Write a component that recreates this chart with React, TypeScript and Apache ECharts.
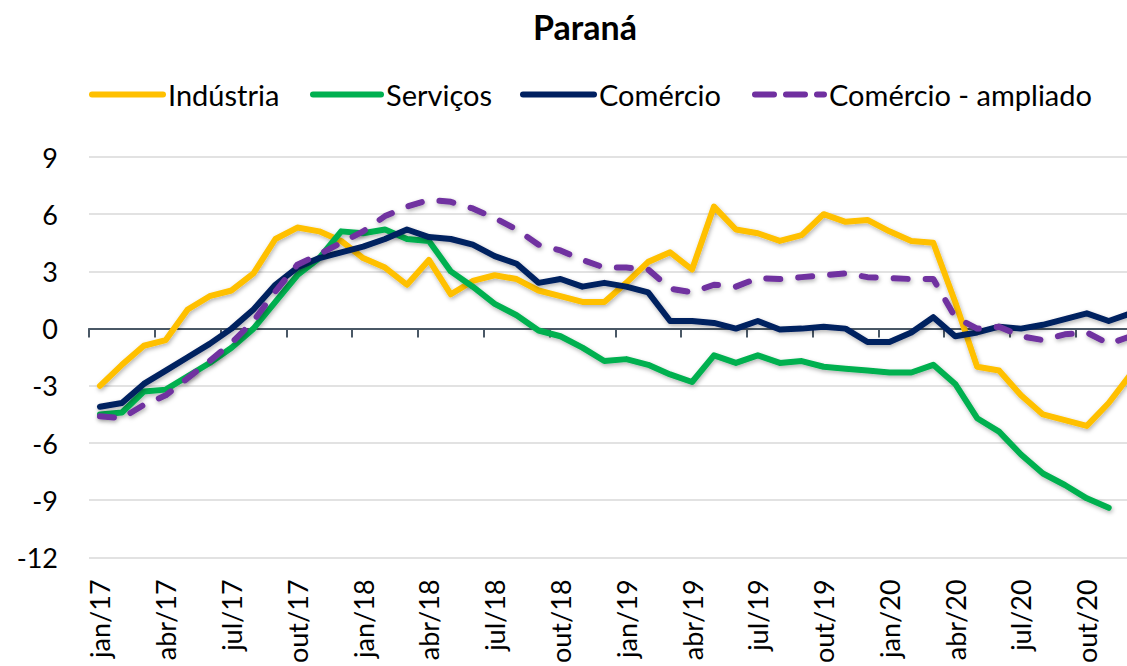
import React, { useEffect, useRef } from "react";
import * as echarts from "echarts";

const monthNames = ["jan", "fev", "mar", "abr", "mai", "jun", "jul", "ago", "set", "out", "nov", "dez"];
const years = ["17", "18", "19", "20"];
const categories: string[] = years.flatMap((y) => monthNames.map((m) => `${m}/${y}`));

const industria = [-3.0, -1.9, -0.9, -0.6, 1.0, 1.7, 2.0, 2.9, 4.7, 5.3, 5.1, 4.6, 3.7, 3.2, 2.3, 3.6, 1.8, 2.5, 2.8, 2.6, 2.0, 1.7, 1.4, 1.4, 2.4, 3.5, 4.0, 3.1, 6.4, 5.2, 5.0, 4.6, 4.9, 6.0, 5.6, 5.7, 5.1, 4.6, 4.5, 1.4, -2.0, -2.2, -3.5, -4.5, -4.8, -5.1, -3.9, -2.4];
const servicos = [-4.5, -4.4, -3.3, -3.2, -2.5, -1.8, -1.0, 0.0, 1.4, 2.8, 3.7, 5.1, 5.0, 5.2, 4.7, 4.6, 3.0, 2.2, 1.3, 0.7, -0.1, -0.4, -1.0, -1.7, -1.6, -1.9, -2.4, -2.8, -1.4, -1.8, -1.4, -1.8, -1.7, -2.0, -2.1, -2.2, -2.3, -2.3, -1.9, -2.9, -4.7, -5.4, -6.6, -7.6, -8.2, -8.9, -9.4, null];
const comercio = [-4.1, -3.9, -2.9, -2.2, -1.5, -0.8, 0.0, 1.0, 2.3, 3.2, 3.7, 4.0, 4.3, 4.7, 5.2, 4.8, 4.7, 4.4, 3.8, 3.4, 2.4, 2.6, 2.2, 2.4, 2.2, 1.9, 0.4, 0.4, 0.3, 0.0, 0.4, -0.05, 0.0, 0.1, 0.0, -0.7, -0.7, -0.2, 0.6, -0.4, -0.2, 0.1, 0.0, 0.2, 0.5, 0.8, 0.4, 0.8];
const comercioAmpliado = [-4.6, -4.7, -4.0, -3.5, -2.6, -1.7, -0.75, 0.4, 1.95, 3.35, 3.9, 4.5, 5.1, 5.9, 6.4, 6.75, 6.65, 6.3, 5.8, 5.2, 4.4, 4.1, 3.6, 3.2, 3.2, 3.1, 2.1, 1.9, 2.3, 2.2, 2.65, 2.6, 2.7, 2.8, 2.9, 2.7, 2.65, 2.6, 2.6, 0.6, 0.0, 0.1, -0.4, -0.6, -0.3, -0.2, -0.8, -0.4];

const seriesNames = ["Indústria", "Serviços", "Comércio", "Comércio - ampliado"];
const seriesColors = ["#FFC000", "#00B050", "#002060", "#7030A0"];
const seriesData = [industria, servicos, comercio, comercioAmpliado];

const FONT = "Lato";

export default function App() {
  const ref = useRef<HTMLDivElement>(null);
  useEffect(() => {
    if (!ref.current) return;
    const chart = echarts.init(ref.current, undefined, { renderer: "svg" });
    const legendLefts = [89, 310, 520, 752];
    const legendWidths = [71, 68, 71, 69];
    chart.setOption({
      animation: false,
      backgroundColor: "#ffffff",
      title: {
        text: "Paraná",
        left: "center",
        top: 4,
        textStyle: { fontFamily: FONT, fontWeight: "bold", fontSize: 34, color: "#000000" },
      },
      legend: seriesNames.map((name, i) => ({
        data: [name],
        left: legendLefts[i],
        top: 80,
        padding: 0,
        itemWidth: legendWidths[i],
        itemHeight: 14,
        selectedMode: false,
        textStyle: { fontFamily: FONT, fontSize: 29, color: "#000000" },
        itemStyle: { opacity: 0 },
        lineStyle: {
          width: 6,
          cap: "round",
          type: i === 3 ? [19, 12] : "solid",
          shadowBlur: 0,
        },
      })),
      grid: { left: 89, top: 157, width: 1052.6, height: 401, containLabel: false },
      xAxis: [
        {
          type: "category",
          data: categories,
          boundaryGap: true,
          axisLine: { onZero: true, lineStyle: { color: "#4A5866", width: 2 } },
          axisTick: { show: true, interval: 2, length: 9, lineStyle: { color: "#4A5866", width: 2 } },
          axisLabel: { show: false },
          splitLine: { show: false },
        },
        {
          type: "category",
          data: categories,
          position: "bottom",
          boundaryGap: true,
          axisLine: { show: false, onZero: false },
          axisTick: { show: false },
          axisLabel: {
            show: true,
            interval: 2,
            rotate: 90,
            margin: 22,
            fontFamily: FONT,
            fontSize: 27,
            color: "#000000",
          },
          splitLine: { show: false },
        },
      ],
      yAxis: {
        type: "value",
        min: -12,
        max: 9,
        interval: 3,
        axisLine: { show: false },
        axisTick: { show: false },
        axisLabel: { fontFamily: FONT, fontSize: 27, color: "#000000", margin: 31 },
        splitLine: { lineStyle: { color: "#D9D9D9", width: 1.5 } },
      },
      series: seriesNames.map((name, i) => ({
        name,
        type: "line",
        xAxisIndex: 0,
        data: seriesData[i],
        symbol: "none",
        color: seriesColors[i],
        connectNulls: false,
        lineStyle: {
          color: seriesColors[i],
          width: 6,
          cap: "round",
          join: "round",
          type: i === 3 ? [14, 18] : "solid",
          shadowColor: "rgba(0,0,0,0.3)",
          shadowBlur: 4,
          shadowOffsetX: 1,
          shadowOffsetY: 2,
        },
      })),
    });
    return () => chart.dispose();
  }, []);
  return (
    <div style={{ position: "fixed", left: 0, top: 0, width: 1127, height: 666, overflow: "hidden", background: "#ffffff" }}>
      <div ref={ref} style={{ width: 1170, height: 666 }} />
    </div>
  );
}
